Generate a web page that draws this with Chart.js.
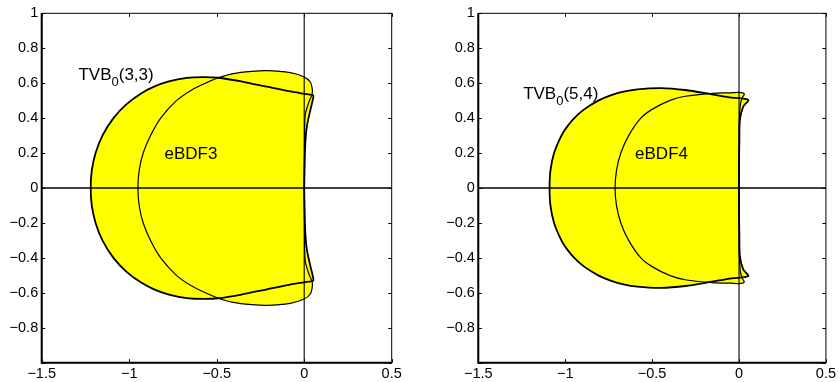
<!DOCTYPE html>
<html><head><meta charset="utf-8">
<script src="https://cdn.jsdelivr.net/npm/chart.js@4/dist/chart.umd.min.js"></script>
<style>
html,body{margin:0;padding:0;background:#fff;}
#wrap{position:relative;width:839px;height:382px;overflow:hidden;background:#fff;}
canvas{position:absolute;top:0;}
</style></head><body>
<div id="wrap">
<canvas id="c1" width="420" height="382" style="left:0px"></canvas>
<canvas id="c2" width="419" height="382" style="left:420px"></canvas>
</div>
<script>
// ---------- data ----------
const xTicks = [-1.5, -1, -0.5, 0, 0.5];
const yTicks = [-1, -0.8, -0.6, -0.4, -0.2, 0, 0.2, 0.4, 0.6, 0.8, 1];

// Left panel: TVB0(3,3) boundary (closed contour)
const tvb33X = [0.0,0.002,0.006,0.015,0.036,0.053,0.044,0.0,-0.08,-0.213,-0.35,-0.49,-0.58,-0.671,-0.773,-0.858,-0.934,-1.015,-1.09,-1.153,-1.192,-1.214,-1.22,
                -1.214,-1.192,-1.153,-1.09,-1.015,-0.934,-0.858,-0.773,-0.671,-0.58,-0.49,-0.35,-0.213,-0.08,0.0,0.044,0.053,0.036,0.015,0.006,0.002,0.0];
const tvb33Y = [0,-0.1,-0.25,-0.351,-0.45,-0.527,-0.533,-0.54,-0.553,-0.58,-0.608,-0.631,-0.635,-0.63,-0.61,-0.58,-0.54,-0.48,-0.4,-0.3,-0.2,-0.1,0,
                0.1,0.2,0.3,0.4,0.48,0.54,0.58,0.61,0.63,0.635,0.631,0.608,0.58,0.553,0.54,0.533,0.527,0.45,0.351,0.25,0.1,0];
// Left panel: eBDF3 boundary
const ebdf3X = [0.0,0.002,0.006,0.03,0.044,0.047,0.034,-0.003,-0.08,-0.213,-0.3,-0.406,-0.49,-0.565,-0.645,-0.73,-0.82,-0.878,-0.92,-0.943,-0.95,
                -0.943,-0.92,-0.878,-0.82,-0.73,-0.645,-0.565,-0.49,-0.406,-0.3,-0.213,-0.08,-0.003,0.034,0.047,0.044,0.03,0.006,0.002,0.0];
const ebdf3Y = [0,-0.25,-0.418,-0.5,-0.532,-0.56,-0.608,-0.637,-0.66,-0.672,-0.668,-0.655,-0.631,-0.6,-0.56,-0.5,-0.4,-0.3,-0.2,-0.1,0,
                0.1,0.2,0.3,0.4,0.5,0.56,0.6,0.631,0.655,0.668,0.672,0.66,0.637,0.608,0.56,0.532,0.5,0.418,0.25,0];

// Right panel: TVB0(5,4) boundary
const tvb54X = [0.0,0.0,0.002,0.005,0.024,0.053,-0.042,-0.156,-0.309,-0.45,-0.585,-0.671,-0.739,-0.81,-0.891,-0.948,-0.99,-1.022,-1.064,-1.085,-1.09,
                -1.085,-1.064,-1.022,-0.99,-0.948,-0.891,-0.81,-0.739,-0.671,-0.585,-0.45,-0.309,-0.156,-0.042,0.053,0.024,0.005,0.002,0.0,0.0];
const tvb54Y = [0,-0.12,-0.275,-0.39,-0.466,-0.504,-0.517,-0.536,-0.561,-0.572,-0.565,-0.55,-0.53,-0.5,-0.45,-0.4,-0.35,-0.3,-0.2,-0.1,0,
                0.1,0.2,0.3,0.35,0.4,0.45,0.5,0.53,0.55,0.565,0.572,0.561,0.536,0.517,0.504,0.466,0.39,0.275,0.12,0];
// Right panel: eBDF4 boundary
const ebdf4X = [0.0,0.001,0.003,0.008,0.02,0.03,0.025,0.0,-0.05,-0.156,-0.31,-0.4,-0.5,-0.565,-0.635,-0.68,-0.705,-0.713,
                -0.705,-0.68,-0.635,-0.565,-0.5,-0.4,-0.31,-0.156,-0.05,0.0,0.025,0.03,0.02,0.008,0.003,0.001,0.0];
const ebdf4Y = [0,-0.2,-0.4,-0.48,-0.52,-0.535,-0.543,-0.547,-0.545,-0.542,-0.525,-0.5,-0.45,-0.4,-0.3,-0.2,-0.1,0,
                0.1,0.2,0.3,0.4,0.45,0.5,0.525,0.542,0.545,0.547,0.543,0.535,0.52,0.48,0.4,0.2,0];

// coordinate axes drawn inside the plots
const hAxisX = [-1.5, 0.5], hAxisY = [0, 0];
const vAxisX = [0, 0],      vAxisY = [-1, 1];

// text annotations: [main, subscript, tail, x, y]
const notesLeft  = [["TVB","0","(3,3)",-1.29,0.618], ["eBDF3","","",-0.798,0.164]];
const notesRight = [["TVB","0","(5,4)",-1.242,0.508], ["eBDF4","","",-0.598,0.164]];

// ---------- helpers ----------
const FONT = '"Liberation Sans", Arial, Helvetica, sans-serif';
function pts(xs, ys){ return xs.map((x,i)=>({x:x, y:ys[i]})); }
function fmt(v){ const r = Math.round(v*10)/10; return r < 0 ? '\u2212' + String(-r) : String(r === 0 ? 0 : r); }

const framePlugin = {
  id: 'frame',
  afterDatasetsDraw(chart, args, opts){
    const ctx = chart.ctx, a = chart.chartArea, sx = chart.scales.x, sy = chart.scales.y;
    ctx.save();
    ctx.strokeStyle = '#000'; ctx.lineWidth = 1;
    const tl = 3.5;
    ctx.beginPath();
    xTicks.forEach(v=>{ const p = Math.round(sx.getPixelForValue(v))+0.5;
      ctx.moveTo(p, a.bottom); ctx.lineTo(p, a.bottom - tl);
      ctx.moveTo(p, a.top); ctx.lineTo(p, a.top + tl); });
    yTicks.forEach(v=>{ const p = Math.round(sy.getPixelForValue(v))+0.5;
      ctx.moveTo(a.left, p); ctx.lineTo(a.left + tl, p);
      ctx.moveTo(a.right, p); ctx.lineTo(a.right - tl, p); });
    ctx.stroke();
    ctx.lineWidth = 1;
    ctx.strokeRect(a.left, a.top, a.right - a.left, a.bottom - a.top);
    ctx.lineWidth = 2;
    ctx.beginPath();
    ctx.moveTo(a.left, a.top); ctx.lineTo(a.left, a.bottom); ctx.lineTo(a.right, a.bottom);
    ctx.stroke();
    ctx.fillStyle = '#000'; ctx.textBaseline = 'alphabetic'; ctx.textAlign = 'left';
    (opts.items || []).forEach(n=>{
      let x = sx.getPixelForValue(n[3]); const y = sy.getPixelForValue(n[4]);
      ctx.font = '17px ' + FONT; ctx.fillText(n[0], x, y); x += ctx.measureText(n[0]).width;
      if (n[1]) { ctx.font = '13px ' + FONT; ctx.fillText(n[1], x, y + 6); x += ctx.measureText(n[1]).width; }
      if (n[2]) { ctx.font = '17px ' + FONT; ctx.fillText(n[2], x, y); }
    });
    ctx.restore();
  }
};

function shapeSet(data, bw){
  return { data: data, showLine: true, fill: 'shape', backgroundColor: '#ffff00',
           borderColor: '#000', borderWidth: bw, pointRadius: 0, tension: 0.3 };
}
function lineSet(data, bw){
  return { data: data, showLine: true, fill: false, borderColor: '#000',
           borderWidth: bw, pointRadius: 0, tension: 0 };
}

function makeChart(id, datasets, yw, rightPad, notes){
  const tickFont = { family: FONT, size: 14.5 };
  return new Chart(document.getElementById(id), {
    type: 'scatter',
    data: { datasets: datasets },
    options: {
      responsive: false, animation: false, devicePixelRatio: 1,
      layout: { padding: { top: 13.3, right: rightPad, left: 0, bottom: 0 } },
      plugins: { legend: { display: false }, tooltip: { enabled: false },
                 filler: { drawTime: 'beforeDatasetsDraw' }, frame: { items: notes } },
      scales: {
        x: { type: 'linear', min: -1.5, max: 0.5,
             ticks: { stepSize: 0.5, callback: fmt, padding: 3, color: '#000', font: tickFont, maxRotation: 0, autoSkip: false },
             grid: { display: false, drawTicks: false }, border: { display: false },
             afterFit(s){ s.height = 19.3; } },
        y: { type: 'linear', min: -1, max: 1,
             ticks: { stepSize: 0.2, callback: v => (Math.abs(v + 1) < 1e-9 ? '' : fmt(v)), padding: 3.5, color: '#000', font: tickFont, autoSkip: false },
             grid: { display: false, drawTicks: false }, border: { display: false },
             afterFit(s){ s.width = yw; } }
      }
    },
    plugins: [framePlugin]
  });
}

makeChart('c1', [
  shapeSet(pts(tvb33X, tvb33Y), 1.8),
  shapeSet(pts(ebdf3X, ebdf3Y), 1.2),
  lineSet(pts(hAxisX, hAxisY), 1.3),
  lineSet(pts(vAxisX, vAxisY), 1.1)
], 41.7, 28.3, notesLeft);

makeChart('c2', [
  shapeSet(pts(tvb54X, tvb54Y), 1.8),
  shapeSet(pts(ebdf4X, ebdf4Y), 1.2),
  lineSet(pts(hAxisX, hAxisY), 1.3),
  lineSet(pts(vAxisX, vAxisY), 1.1)
], 58.3, 10.7, notesRight);
</script>
</body></html>
